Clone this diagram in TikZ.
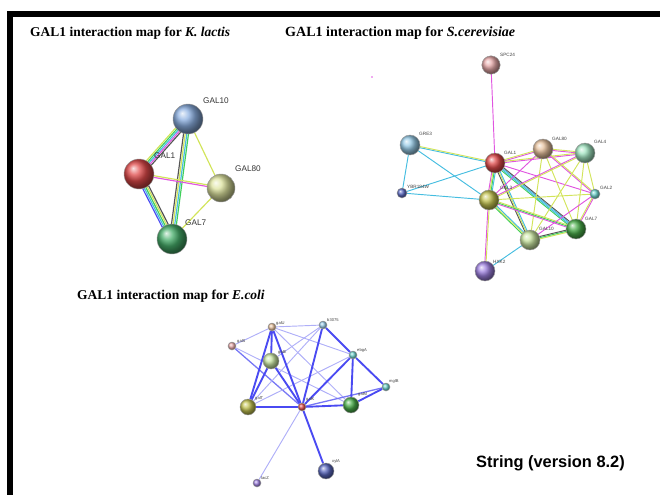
\documentclass[tikz,border=0pt]{standalone}
\usepackage{fontspec}
\setmainfont{Liberation Serif}
\setsansfont{Liberation Sans}
\usepackage{tikz}
\usetikzlibrary{calc,shadings}
\pgfdeclarelayer{links}
\pgfsetlayers{links,main}
\definecolor{lnkyel}{HTML}{D2E45A}
\definecolor{lnkmag}{HTML}{E055E0}
\definecolor{lnkcyan}{HTML}{45BDE0}
\definecolor{lnkgreen}{HTML}{3FCF5A}
\definecolor{lnkgrey}{HTML}{555555}
\definecolor{lnkblue}{HTML}{4A4AF2}
\definecolor{lnkpale}{HTML}{AFAFF8}
\definecolor{pblue}{HTML}{8AAEE0}
\definecolor{pred}{HTML}{E04A4A}
\definecolor{polive}{HTML}{DDE39E}
\definecolor{pgreen}{HTML}{46AE6A}
\definecolor{ppink}{HTML}{E6A8A8}
\definecolor{psky}{HTML}{96CAE6}
\definecolor{pnavy}{HTML}{5A68C0}
\definecolor{ptan}{HTML}{E6C09C}
\definecolor{pmint}{HTML}{A0E4C0}
\definecolor{pteal}{HTML}{6CD0CA}
\definecolor{pmustard}{HTML}{C2C250}
\definecolor{pleaf}{HTML}{4AAE4A}
\definecolor{plime}{HTML}{C8E4A0}
\definecolor{pviolet}{HTML}{9E80E0}
% parallel coloured evidence lines between two proteins
\newcommand{\strands}[4][0.9pt]{%
  \begin{pgfonlayer}{links}
  \foreach \c/\o in {#4}
    \draw[\c, line width=#1] ($(#2)!\o pt!90:(#3)$) -- ($(#3)!\o pt!-90:(#2)$);
  \end{pgfonlayer}}

\begin{document}
\begin{tikzpicture}[x=0.03cm, y=-0.03cm,
  prot/.style={circle, inner sep=0pt, draw=black!40, line width=0.4pt, ball color=#1},
  klball/.style={prot=#1, minimum size=0.9cm},
  scball/.style={prot=#1, minimum size=0.6cm},
  scdot/.style={prot=#1, minimum size=0.3cm},
  ecball/.style={prot=#1, minimum size=0.48cm},
  ecdot/.style={prot=#1, minimum size=0.24cm},
  heading/.style={anchor=west, inner sep=0pt, font=\bfseries\fontsize{11.5}{13}\selectfont},
  kltxt/.style={anchor=west, inner sep=0pt, text=black!80, font=\sffamily\fontsize{7}{8}\selectfont},
  sctxt/.style={anchor=west, inner sep=0pt, text=black!75, font=\sffamily\fontsize{4}{5}\selectfont},
  ectxt/.style={anchor=west, inner sep=0pt, text=black!75, font=\sffamily\fontsize{3.5}{4}\selectfont},
  ecstrong/.style={lnkblue, line width=1.6pt},
  ecmid/.style={lnkblue!75, line width=1.1pt},
  ecweak/.style={lnkpale, line width=0.8pt}]
\useasboundingbox (0,0) rectangle (660,495);
% frame
\fill[black] (7,11) rectangle (660,17);
\fill[black] (7,11) rectangle (13,495);

% headings
\node[heading] (kl-head) at (30,33) {GAL1 interaction map for \textit{K. lactis}};
\node[heading, font=\bfseries\fontsize{12}{13}\selectfont] (sc-head) at (285,33) {GAL1 interaction map for \textit{S.cerevisiae}};
\node[heading] (ec-head) at (77,296) {GAL1 interaction map for \textit{E.coli}};
\node[anchor=west, inner sep=0pt, font=\sffamily\bfseries\fontsize{14}{16}\selectfont] (version) at (476,463) {String (version 8.2)};
\fill[lnkmag] (372,77) circle (0.9);

% K. lactis
\node[klball=pblue] (k10) at (188,119) {};
\node[klball=pred] (k1) at (139,174) {};
\node[klball=polive, minimum size=0.84cm] (k80) at (221,188) {};
\node[klball=pgreen] (k7) at (172,239) {};
\node[kltxt] (k10t) at (203,101) {GAL10};
\node[kltxt] (k1t) at (154,156) {GAL1};
\node[kltxt] (k80t) at (235,169) {GAL80};
\node[kltxt] (k7t) at (185,223) {GAL7};
\strands[1pt]{k1}{k10}{lnkgrey/-2.8, lnkmag/-1.4, lnkcyan/0, lnkgreen/1.4, lnkyel/2.8}
\strands[1pt]{k1}{k7}{lnkblue/-2.8, lnkcyan/-1.4, lnkgreen/0, lnkyel/1.4, lnkgrey/2.8}
\strands[1pt]{k10}{k7}{lnkgrey/-2.1, lnkyel/-0.7, lnkcyan/0.7, lnkgreen/2.1}
\strands[1pt]{k10}{k80}{lnkyel/0}
\strands[1pt]{k1}{k80}{lnkmag/-0.7, lnkyel/0.7}
\strands[1pt]{k80}{k7}{lnkyel/0}

% S. cerevisiae
\node[prot=ppink, minimum size=0.55cm] (spc24) at (491,65) {};
\node[scball=psky] (gre3) at (410,145) {};
\node[scdot=pnavy] (ybr) at (402,193) {};
\node[scball=pred] (s1) at (495,163) {};
\node[scball=ptan] (s80) at (543,149) {};
\node[scball=pmint] (s4) at (585,153) {};
\node[scdot=pteal] (s2) at (595,194) {};
\node[scball=pmustard] (s3) at (489,200) {};
\node[scball=pleaf] (s7) at (576,229) {};
\node[scball=plime] (s10) at (530,240) {};
\node[scball=pviolet] (hxk2) at (485,271) {};
\node[sctxt] (spc24t) at (500,55) {SPC24};
\node[sctxt] (gre3t) at (419,134) {GRE3};
\node[sctxt] (ybrt) at (407,187) {YBR184W};
\node[sctxt] (s1t) at (504,153) {GAL1};
\node[sctxt] (s80t) at (552,139) {GAL80};
\node[sctxt] (s4t) at (594,142) {GAL4};
\node[sctxt] (s2t) at (600,188) {GAL2};
\node[sctxt] (s3t) at (500,188) {GAL3};
\node[sctxt] (s7t) at (585,219) {GAL7};
\node[sctxt] (s10t) at (539,229) {GAL10};
\node[sctxt] (hxk2t) at (493,262) {HXK2};
\strands[0.8pt]{spc24}{s1}{lnkmag/0}
\strands[0.8pt]{gre3}{s1}{lnkcyan/-0.5, lnkyel/0.5}
\strands[0.8pt]{gre3}{ybr}{lnkcyan/0}
\strands[0.8pt]{gre3}{s3}{lnkcyan/0}
\strands[0.8pt]{ybr}{s1}{lnkcyan/0}
\strands[0.8pt]{ybr}{s3}{lnkcyan/0}
\strands[0.8pt]{s1}{s80}{lnkmag/-0.5, lnkyel/0.5}
\strands[0.8pt]{s1}{s4}{lnkmag/-0.5, lnkyel/0.5}
\strands[0.8pt]{s1}{s2}{lnkmag/0}
\strands[0.8pt]{s1}{s3}{lnkmag/-1.5, lnkyel/-0.5, lnkgreen/0.5, lnkcyan/1.5}
\strands[0.8pt]{s1}{s7}{lnkgreen/-1.5, lnkcyan/-0.5, lnkcyan/0.5, lnkgrey/1.5}
\strands[0.8pt]{s1}{s10}{lnkgrey/-1, lnkyel/0, lnkcyan/1}
\strands[0.8pt]{s80}{s4}{lnkmag/-0.5, lnkyel/0.5}
\strands[0.8pt]{s80}{s3}{lnkmag/0}
\strands[0.8pt]{s80}{s10}{lnkyel/0}
\strands[0.8pt]{s80}{s7}{lnkyel/0}
\strands[0.8pt]{s80}{s2}{lnkmag/-0.5, lnkyel/0.5}
\strands[0.8pt]{s4}{s3}{lnkmag/-0.5, lnkyel/0.5}
\strands[0.8pt]{s4}{s10}{lnkyel/0}
\strands[0.8pt]{s4}{s7}{lnkyel/0}
\strands[0.8pt]{s4}{s2}{lnkyel/0}
\strands[0.8pt]{s3}{s2}{lnkyel/0}
\strands[0.8pt]{s3}{s7}{lnkmag/-1, lnkgreen/0, lnkyel/1}
\strands[0.8pt]{s3}{s10}{lnkgreen/-1, lnkyel/0, lnkcyan/1}
\strands[0.8pt]{s3}{hxk2}{lnkmag/-0.5, lnkyel/0.5}
\strands[0.8pt]{s10}{hxk2}{lnkcyan/0}
\strands[0.8pt]{s10}{s7}{lnkyel/-1, lnkgreen/0, lnkgrey/1}
\strands[0.8pt]{s10}{s2}{lnkmag/0}
\strands[0.8pt]{s7}{s2}{lnkmag/-0.5, lnkyel/0.5}

% E. coli
\node[ecdot=ptan] (galU) at (272,327) {};
\node[ecdot=ppink] (galS) at (232,346) {};
\node[ecball=plime] (galE) at (271,361) {};
\node[ecball=pmustard] (galT) at (248,407) {};
\node[ecdot=pred] (galK) at (302,407) {};
\node[ecball=pleaf] (galM) at (351,405) {};
\node[ecdot=psky] (b3075) at (323,325) {};
\node[ecdot=pteal] (ebgA) at (353,355) {};
\node[ecdot=pteal] (mglB) at (386,387) {};
\node[ecball=pnavy] (xylA) at (326,471) {};
\node[ecdot=pviolet] (lacZ) at (257,483) {};
\node[ectxt] (galUt) at (276,323) {galU};
\node[ectxt] (galSt) at (237,341) {galS};
\node[ectxt] (galEt) at (278,352) {galE};
\node[ectxt] (galTt) at (255,398) {galT};
\node[ectxt] (galKt) at (306,399) {galK};
\node[ectxt] (galMt) at (358,394) {galM};
\node[ectxt] (b3075t) at (327,320) {b3075};
\node[ectxt] (ebgAt) at (357,350) {ebgA};
\node[ectxt] (mglBt) at (389,381) {mglB};
\node[ectxt] (xylAt) at (332,461) {xylA};
\node[ectxt] (lacZt) at (261,478) {lacZ};
\begin{pgfonlayer}{links}
\draw[ecweak] (galS) -- (galU);
\draw[ecweak] (galS) -- (galM);
\draw[ecmid] (galS) -- (galK);
\draw[ecweak] (galU) -- (b3075);
\draw[ecweak] (galU) -- (ebgA);
\draw[ecweak] (galU) -- (galM);
\draw[ecweak] (b3075) -- (galE);
\draw[ecweak] (b3075) -- (galT);
\draw[ecweak] (ebgA) -- (galT);
\draw[ecweak] (galK) -- (lacZ);
\draw[ecmid] (galK) -- (mglB);
\draw[ecstrong] (galU) -- (galT);
\draw[ecstrong] (galU) -- (galE);
\draw[ecstrong] (galU) -- (galK);
\draw[ecstrong] (galE) -- (galT);
\draw[ecstrong] (galE) -- (galK);
\draw[ecstrong] (galT) -- (galK);
\draw[ecstrong] (galK) -- (galM);
\draw[ecstrong] (galK) -- (b3075);
\draw[ecstrong] (galK) -- (ebgA);
\draw[ecstrong] (galK) -- (xylA);
\draw[ecstrong] (b3075) -- (ebgA);
\draw[ecstrong] (ebgA) -- (galM);
\draw[ecstrong] (ebgA) -- (mglB);
\draw[ecstrong] (mglB) -- (galM);
\end{pgfonlayer}
\end{tikzpicture}
\end{document}
